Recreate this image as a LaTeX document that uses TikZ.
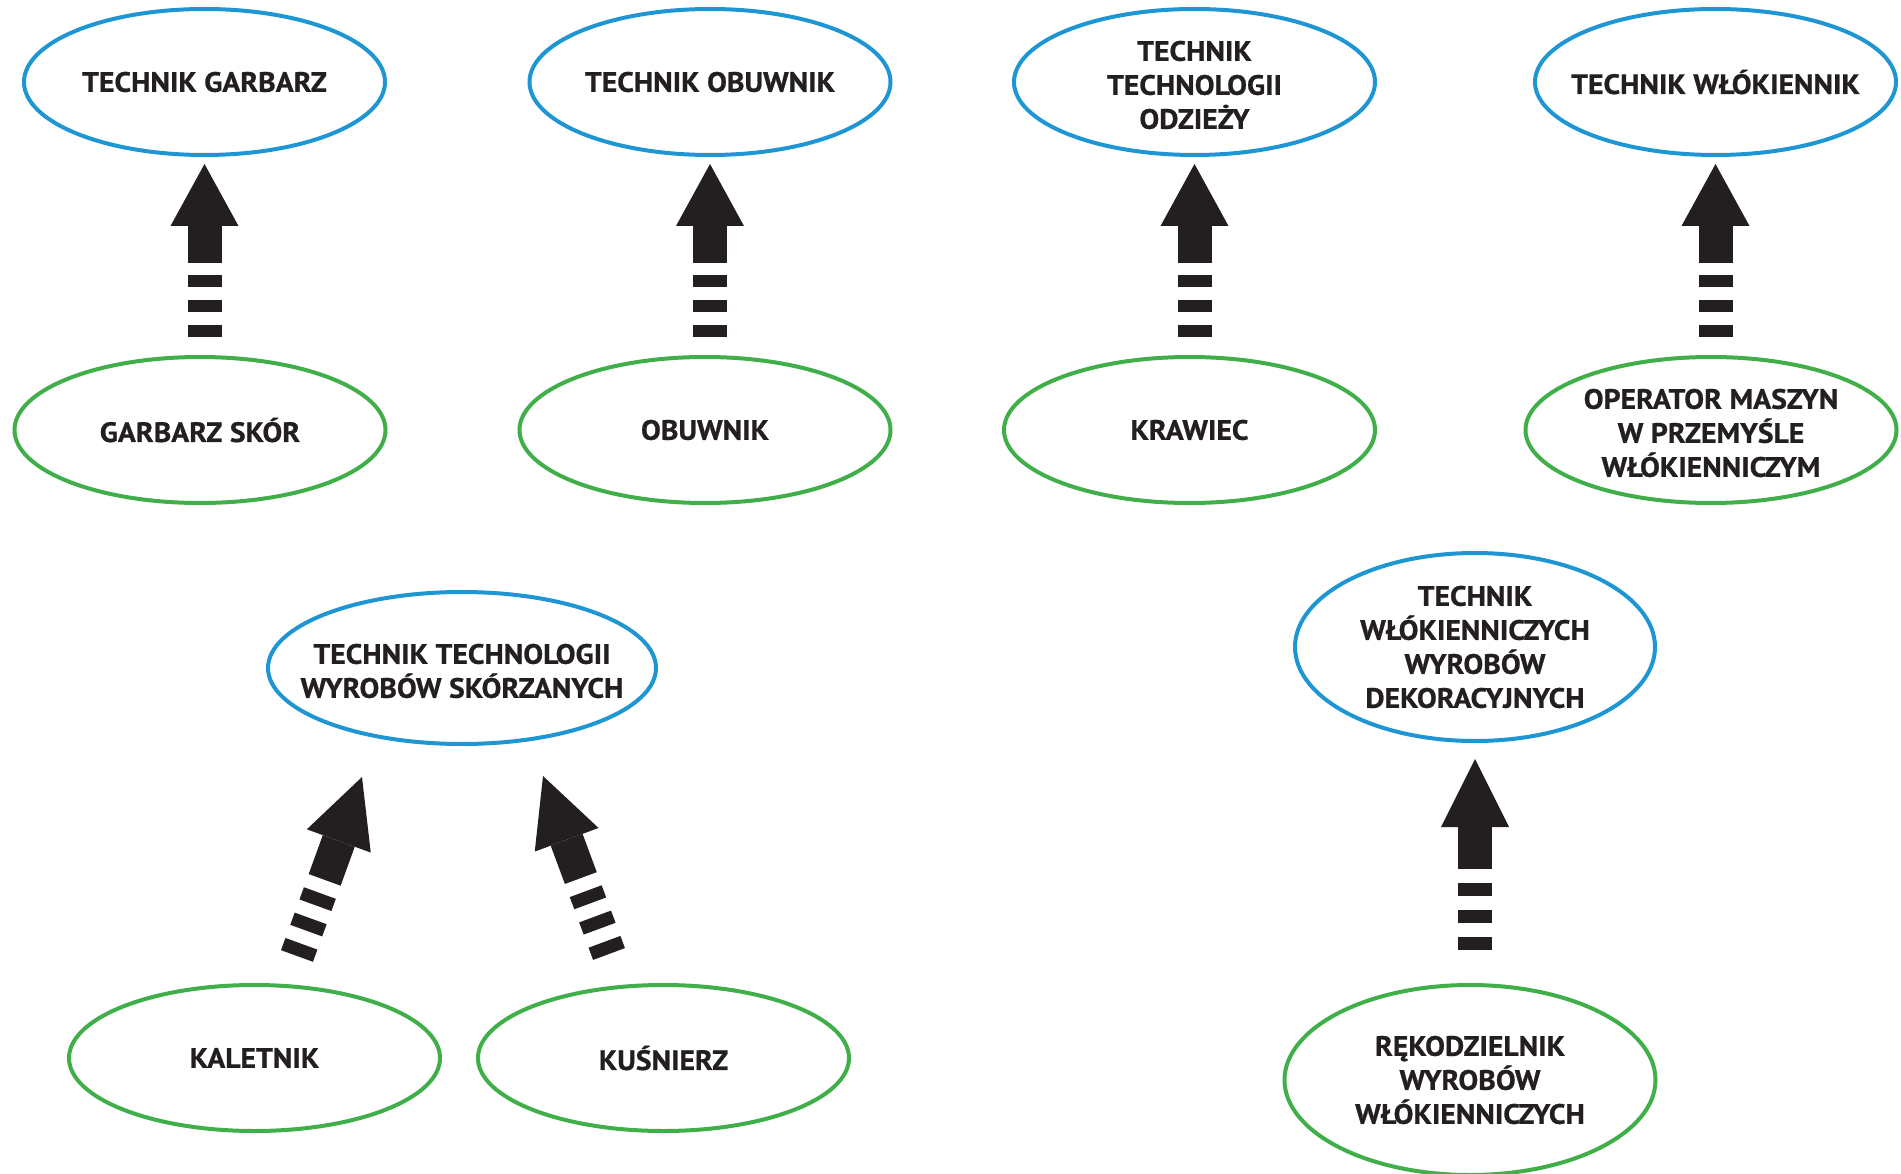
\documentclass[tikz,border=0pt]{standalone}
\usepackage{fontspec}
\setmainfont{PT Sans}[FakeStretch=1.06, BoldFeatures={FakeBold=0.8}]
\usetikzlibrary{arrows.meta,shapes.geometric,calc}
\definecolor{ovalblue}{HTML}{1E96D4}
\definecolor{ovalgreen}{HTML}{40AE49}
\definecolor{inkblack}{HTML}{231F20}

\begin{document}
\begin{tikzpicture}[
  x=1pt, y=-1pt,
  font=\bfseries\fontsize{28pt}{34pt}\selectfont,
  jobtext/.style={
    anchor=center,
    align=center,
    text=inkblack,
    inner sep=0pt
  },
  job/.style={label={[jobtext]center:#1}},
  lowjob/.style={label={[jobtext, yshift=-3pt]center:#1}},
  ovalbox/.style={
    ellipse,
    line width=4pt,
    inner sep=0pt,
    minimum width=371pt,
    minimum height=146pt
  },
  techoval/.style={ovalbox, draw=ovalblue, minimum width=361pt},
  workoval/.style={ovalbox, draw=ovalgreen},
  riser/.style={
    draw=inkblack,
    line width=34pt,
    dash pattern=on 12pt off 13pt on 12pt off 13pt on 12pt off 12pt on 400pt,
    -{Triangle[length=62pt,width=68pt,line width=0pt]}
  },
  tallriser/.style={
    riser,
    dash pattern=on 13pt off 14pt on 13pt off 14pt on 13pt off 14pt on 400pt,
    -{Triangle[length=68pt,width=68pt,line width=0pt]}
  }
]
  \useasboundingbox (0,0) rectangle (1901,1174);

  % Technician Qualifications (top row)
  \node[techoval, job={TECHNIK GARBARZ}] (tgarbarz) at (204.5,82) {};
  \node[techoval, job={TECHNIK OBUWNIK}] (tobuwnik) at (710,82) {};
  \node[techoval, lowjob={TECHNIK\\TECHNOLOGII\\ODZIEŻY}] (todziez) at (1194.5,82) {};
  \node[techoval, job={TECHNIK WŁÓKIENNIK}] (twlokien) at (1715.5,82) {};

  % Vocational Qualifications (second row)
  \node[workoval, job={GARBARZ SKÓR}] (garbarz) at (200,430) {};
  \node[workoval, job={OBUWNIK}] (obuwnik) at (705,430) {};
  \node[workoval, job={KRAWIEC}] (krawiec) at (1189.5,430) {};
  \node[workoval, lowjob={OPERATOR MASZYN\\W PRZEMYŚLE\\WŁÓKIENNICZYM}] (operator) at (1711,430) {};

  % Arrows between the rows
  \draw[riser, shorten <=18pt, shorten >=7pt] (garbarz.north -| tgarbarz) -- (tgarbarz.south);
  \draw[riser, shorten <=18pt, shorten >=7pt] (obuwnik.north -| tobuwnik) -- (tobuwnik.south);
  \draw[riser, shorten <=18pt, shorten >=7pt] (krawiec.north -| todziez) -- (todziez.south);
  \draw[riser, shorten <=18pt, shorten >=7pt] (operator.north -| twlokien) -- (twlokien.south);

  % Leather Goods Group
  \node[techoval, minimum width=388pt, minimum height=152pt,
    lowjob={TECHNIK TECHNOLOGII\\WYROBÓW SKÓRZANYCH}] (skorzane) at (462,668) {};
  \node[workoval, job={KALETNIK}] (kaletnik) at (254.5,1058) {};
  \node[workoval, job={KUŚNIERZ}] (kusnierz) at (663.5,1058) {};

  \coordinate (kalfoot) at ($(kaletnik.north)+(42.5,-27)$);
  \coordinate (kalhead) at ($(skorzane.south)+(-100,31)$);
  \coordinate (kusfoot) at ($(kusnierz.north)+(-54.5,-29)$);
  \coordinate (kushead) at ($(skorzane.south)+(81,30)$);
  \draw[tallriser] (kalfoot) -- (kalhead);
  \draw[tallriser] (kusfoot) -- (kushead);

  % Decorative Textiles Group
  \node[techoval, minimum width=360pt, minimum height=188pt,
    job={TECHNIK\\WŁÓKIENNICZYCH\\WYROBÓW\\DEKORACYJNYCH}] (tdekor) at (1475,647) {};
  \node[workoval, minimum height=190pt,
    job={RĘKODZIELNIK\\WYROBÓW\\WŁÓKIENNICZYCH}] (rekodz) at (1470,1080) {};

  \draw[tallriser, shorten <=33pt, shorten >=16pt] (rekodz.north -| tdekor) -- (tdekor.south);

\end{tikzpicture}
\end{document}
